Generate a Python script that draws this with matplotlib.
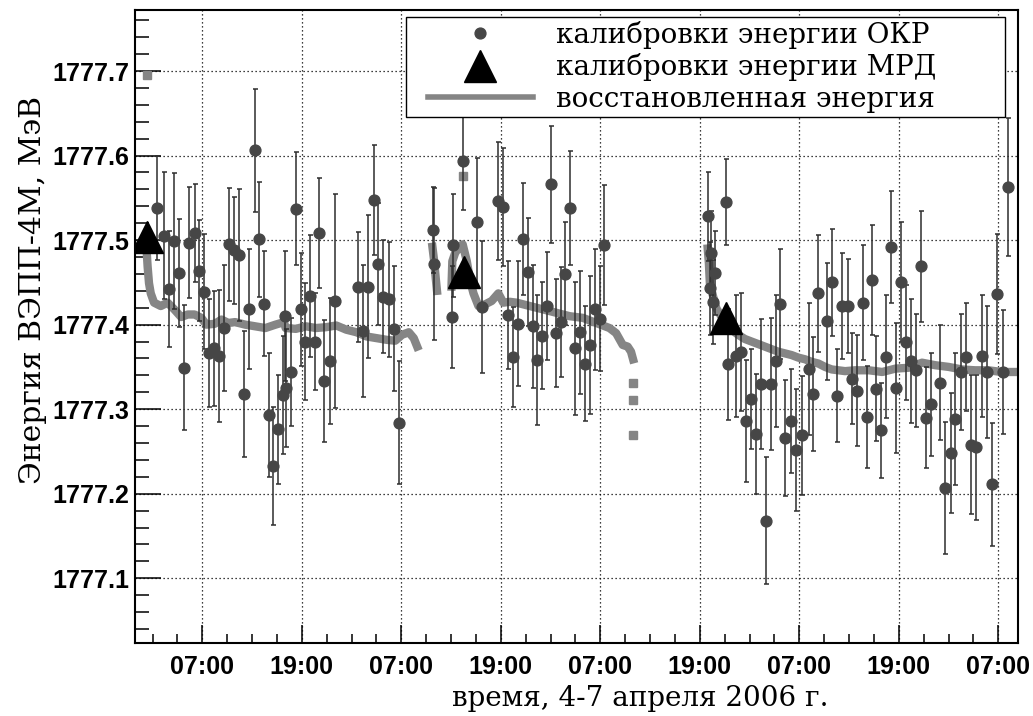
import numpy as np
import matplotlib
matplotlib.use("Agg")
import matplotlib.pyplot as plt
from matplotlib.ticker import FixedLocator, FuncFormatter
from matplotlib.lines import Line2D
from matplotlib.legend_handler import HandlerLine2D

nan = float("nan")

# ---- OKR energy calibrations (hours since 00:00 of first day, MeV, error) ----
okr_t = [1.51, 2.32, 2.93, 3.54, 4.15, 4.76, 5.45, 6.06, 6.59, 7.2, 7.77, 8.42, 9.03,
         9.64, 10.25, 10.86, 11.47, 12.04, 12.65, 13.39, 13.79, 14.4, 15.01, 15.54, 16.15, 16.72,
         17.13, 17.74, 16.93, 18.27, 18.88, 19.41, 20.02, 20.63, 21.12, 21.73, 22.34, 22.95,
         25.79, 26.40, 27.01, 27.67, 28.24, 28.85, 29.46, 30.15, 30.76,
         34.79, 34.99, 37.11, 37.27, 38.39, 40.08, 40.68, 42.68, 43.28, 43.88, 44.52, 45.08,
         45.68, 46.28, 46.88, 47.37, 47.97, 48.53, 49.09, 49.69, 50.29, 50.77, 51.37, 51.97,
         52.57, 53.17, 53.77, 54.37, 54.93, 55.49,
         68.01, 68.33, 68.89, 68.21, 68.61, 70.14, 70.34, 71.35, 71.95, 72.52, 73.16, 73.73,
         74.33, 74.93, 75.54, 76.14, 76.71, 77.31, 77.95, 78.6, 79.28, 80.13, 80.69, 81.3,
         82.38, 82.91, 83.59, 84.16, 84.84, 85.41, 86.01,
         86.68, 87.2, 87.72, 88.28, 88.88, 89.48, 90.0, 90.68, 91.32, 91.88, 92.48, 93.08,
         93.68, 94.28, 94.88, 96.0, 96.52, 97.28, 97.8, 98.52, 99.08, 99.68, 100.32, 101.0,
         101.68, 102.2, 102.84, 103.52, 104.12]
okr_e = [1777.538, 1777.505, 1777.442, 1777.499, 1777.461, 1777.349, 1777.497, 1777.508,
         1777.464, 1777.439, 1777.366, 1777.372, 1777.363, 1777.396, 1777.495, 1777.488,
         1777.482, 1777.318, 1777.418, 1777.606, 1777.501, 1777.425, 1777.293, 1777.233,
         1777.276, 1777.317,
         1777.325, 1777.344, 1777.410, 1777.537, 1777.418, 1777.380, 1777.434, 1777.380,
         1777.508, 1777.333, 1777.357, 1777.428, 1777.445, 1777.392, 1777.445, 1777.547,
         1777.472, 1777.433, 1777.430, 1777.395, 1777.284,
         1777.512, 1777.472, 1777.409, 1777.494, 1777.594, 1777.521, 1777.421, 1777.546,
         1777.539, 1777.411, 1777.362, 1777.401, 1777.501, 1777.462, 1777.398, 1777.358,
         1777.387, 1777.422, 1777.566, 1777.390, 1777.403, 1777.460, 1777.538, 1777.372,
         1777.391, 1777.354, 1777.376, 1777.418, 1777.407, 1777.494,
         1777.528, 1777.485, 1777.461, 1777.443, 1777.427, 1777.545, 1777.353, 1777.363,
         1777.368, 1777.286, 1777.312, 1777.271, 1777.330, 1777.168, 1777.330, 1777.357,
         1777.424, 1777.266, 1777.286, 1777.252, 1777.269, 1777.348, 1777.318, 1777.437,
         1777.404, 1777.450, 1777.316, 1777.422, 1777.422, 1777.336, 1777.322,
         1777.426, 1777.291, 1777.453, 1777.324, 1777.275, 1777.362, 1777.492, 1777.325,
         1777.451, 1777.379, 1777.357, 1777.346, 1777.469, 1777.290, 1777.306, 1777.331,
         1777.207, 1777.248, 1777.288, 1777.344, 1777.362, 1777.258, 1777.255, 1777.363,
         1777.344, 1777.211, 1777.436, 1777.344, 1777.563]
okr_err = [0.062, 0.075, 0.069, 0.080, 0.064, 0.074, 0.066, 0.058, 0.060, 0.068, 0.064, 0.068,
           0.078, 0.075, 0.067, 0.063, 0.078, 0.075, 0.071, 0.073, 0.068, 0.062, 0.073, 0.070,
           0.064, 0.070,
           0.070, 0.064, 0.077, 0.067, 0.067, 0.069, 0.072, 0.057, 0.065, 0.072, 0.075, 0.127,
           0.065, 0.078, 0.085, 0.065, 0.072, 0.067, 0.068, 0.074, 0.073,
           0.051, 0.090, 0.060, 0.061, 0.058, 0.076, 0.078, 0.070, 0.070, 0.064, 0.059, 0.074,
           0.066, 0.064, 0.073, 0.077, 0.063, 0.064, 0.069, 0.064, 0.065, 0.061, 0.067, 0.079,
           0.073, 0.068, 0.082, 0.072, 0.062, 0.071,
           0.053, 0.050, 0.050, 0.055, 0.050, 0.051, 0.066, 0.072, 0.070, 0.072, 0.059, 0.071,
           0.077, 0.075, 0.078, 0.078, 0.065, 0.069, 0.062, 0.072, 0.070, 0.078, 0.067, 0.069,
           0.069, 0.063, 0.055, 0.063, 0.056, 0.054, 0.066,
           0.068, 0.060, 0.065, 0.062, 0.056, 0.073, 0.066, 0.077, 0.071, 0.068, 0.073, 0.067,
           0.066, 0.060, 0.061, 0.068, 0.078, 0.071, 0.078, 0.069, 0.064, 0.082, 0.086, 0.072,
           0.078, 0.073, 0.071, 0.073, 0.082]

# ---- MRD (resonant depolarization) calibrations ----
mrd_t = [0.30, 38.57, 70.2]
mrd_e = [1777.504, 1777.4625, 1777.4075]

# ---- reconstructed energy (NaN separates pieces) ----
rec_t = [0.30, 0.40, 0.57, 0.78, 1.18, 1.99, 2.81, 3.62, 4.44, 5.25, 6.06, 6.88, 7.49, 8.5,
         9.32, 10.13, 10.95, 12.17, 13.39, 14.61, 15.83, 16.85, 17.05, 18.27, 19.49, 20.71,
         21.93, 23.15, 24.37, 25.59, 26.81, 28.03, 29.25, 30.27, 31.08, 31.9, 32.5, 32.91, nan,
         34.75, 34.95, 35.15, 35.3, nan,
         37.05, 37.15, 37.5, 38.0, 38.4, 38.9, 39.3, 39.7, 40.3, 41.1, 41.9, 42.7, 43.3, 44.1,
         44.9, 45.7, 46.5, 47.3, 48.1, 48.9, 49.7, 50.5, 51.3, 52.1, 52.9, 53.7, 54.5, 55.3,
         56.1, 56.9, 57.7, 58.3, 58.7, 58.95, nan,
         67.95, 68.09, 68.21, 68.61, 69.01, 69.82, 70.83, 71.63, 72.44, 73.24, 74.05, 74.85,
         75.66, 76.46, 77.27, 78.07, 78.88, 79.69, 80.49, 81.30, 82.10, 82.91, 83.71, 84.52,
         85.73, 87.4, 89.0, 90.6, 92.2, 93.8, 95.4, 97.0, 98.6, 100.2, 101.8, 103.4, 105.0]
rec_e = [1777.485, 1777.469, 1777.449, 1777.437, 1777.426, 1777.422, 1777.426, 1777.418,
         1777.409, 1777.412, 1777.412, 1777.408, 1777.400, 1777.401, 1777.406, 1777.402,
         1777.403, 1777.400, 1777.398, 1777.396, 1777.400, 1777.403, 1777.396, 1777.395,
         1777.398, 1777.396, 1777.397, 1777.399, 1777.394, 1777.391, 1777.386, 1777.384,
         1777.382, 1777.381, 1777.388, 1777.391, 1777.384, 1777.374, nan,
         1777.492, 1777.476, 1777.455, 1777.440, nan,
         1777.445, 1777.475, 1777.485, 1777.492, 1777.495, 1777.475, 1777.452, 1777.437,
         1777.422, 1777.424, 1777.428, 1777.437, 1777.426, 1777.427, 1777.426, 1777.424,
         1777.422, 1777.420, 1777.418, 1777.416, 1777.414, 1777.412, 1777.410, 1777.409,
         1777.408, 1777.405, 1777.402, 1777.399, 1777.396, 1777.390, 1777.376, 1777.374,
         1777.368, 1777.359, nan,
         1777.490, 1777.473, 1777.449, 1777.433, 1777.419, 1777.406, 1777.394, 1777.388,
         1777.383, 1777.380, 1777.377, 1777.374, 1777.371, 1777.368, 1777.366, 1777.364,
         1777.361, 1777.359, 1777.356, 1777.354, 1777.350, 1777.347, 1777.346, 1777.345,
         1777.346, 1777.346, 1777.344, 1777.348, 1777.349, 1777.355, 1777.352, 1777.350,
         1777.347, 1777.346, 1777.346, 1777.344, 1777.344]
rec_iso_t = [0.30, 38.4, 59.0, 59.0, 59.0]
rec_iso_e = [1777.695, 1777.576, 1777.331, 1777.311, 1777.270]

# ---- axis ticks ----
x_major = [7, 19, 31, 43, 55, 67, 79, 91, 103]
x_labels = ["07:00", "19:00", "07:00", "19:00", "07:00", "19:00", "07:00", "19:00", "07:00"]
y_major = [1777.1, 1777.2, 1777.3, 1777.4, 1777.5, 1777.6, 1777.7]

legend_labels = ["калибровки энергии ОКР", "калибровки энергии МРД", "восстановленная энергия"]
xlabel = "время, 4-7 апреля 2006 г."
ylabel = "Энергия ВЭПП-4М, МэВ"

GRAY = "#858585"
DARK = "#464646"

fig = plt.figure(figsize=(10.33, 7.16), dpi=100)
ax = fig.add_axes([135 / 1033, 1 - 643 / 716, (1018.3 - 135) / 1033, (643 - 10) / 716])

ax.set_xlim(-1.12, 105.41)
ax.set_ylim(1777.0234, 1777.7722)

# grid
ax.grid(True, which="major", color="black", linestyle=(0, (1, 2.2)), linewidth=0.9, zorder=0)
ax.set_axisbelow(True)

# reconstructed energy
ax.plot(rec_t, rec_e, color=GRAY, lw=6.0, solid_capstyle="projecting", zorder=2)
ax.plot(rec_iso_t, rec_iso_e, linestyle="none", marker="s", ms=5.5, color=GRAY,
        mec=GRAY, zorder=2)

# OKR calibrations
ax.errorbar(okr_t, okr_e, yerr=okr_err, fmt="none", ecolor="#2e2e2e", elinewidth=1.1,
            capsize=1.8, capthick=1.1, zorder=3)
h_okr, = ax.plot(okr_t, okr_e, linestyle="none", marker="o", ms=7.8, color=DARK,
                 mec=DARK, zorder=3.5)

# MRD calibrations
h_mrd, = ax.plot(mrd_t, mrd_e, linestyle="none", marker="^", ms=22.5, color="black",
                 mec="black", zorder=4)

h_rec = Line2D([], [], color=GRAY, lw=4.0)

# ticks
ax.xaxis.set_major_locator(FixedLocator(x_major))
ax.xaxis.set_major_formatter(FuncFormatter(lambda v, p: x_labels[x_major.index(int(round(v)))]
                                           if int(round(v)) in x_major else ""))
ax.xaxis.set_minor_locator(FixedLocator(list(np.arange(1, 106, 3))))
ax.yaxis.set_major_locator(FixedLocator(y_major))
ax.yaxis.set_major_formatter(FuncFormatter(lambda v, p: f"{v:.1f}"))
ax.yaxis.set_minor_locator(FixedLocator(list(np.round(np.arange(1777.04, 1777.77, 0.02), 2))))

ax.tick_params(axis="both", which="both", direction="in", color="black", width=1.1)
ax.tick_params(axis="x", which="major", length=13, pad=9)
ax.tick_params(axis="x", which="minor", length=6.5)
ax.tick_params(axis="y", which="major", length=19, pad=4)
ax.tick_params(axis="y", which="minor", length=10)
for lab in ax.get_xticklabels() + ax.get_yticklabels():
    lab.set_fontfamily("Liberation Sans")
    lab.set_fontweight("bold")
    lab.set_fontsize(18)

for sp in ax.spines.values():
    sp.set_linewidth(1.5)
    sp.set_color("black")

# axis titles
ax.set_xlabel(xlabel, fontfamily="DejaVu Serif", fontsize=20)
ax.xaxis.set_label_coords(0.572, -0.066)
ax.set_ylabel(ylabel, fontfamily="DejaVu Serif", fontsize=21.5)
ax.yaxis.set_label_coords(-0.100, 0.558)

# legend
leg = ax.legend([h_okr, h_mrd, h_rec], legend_labels,
                loc="upper left", bbox_to_anchor=(0.3068, 0.837, 0.678, 0.152),
                mode="expand", borderaxespad=0, prop={"family": "DejaVu Serif", "size": 20},
                handlelength=4.42, handletextpad=0.83, borderpad=0.14, labelspacing=0.16,
                fancybox=False, framealpha=1, edgecolor="black", numpoints=1,
                handler_map={Line2D: HandlerLine2D(xpad=0.65)})
leg.get_frame().set_linewidth(1.0)
leg.set_zorder(10)

fig.savefig("out.png", dpi=100)
